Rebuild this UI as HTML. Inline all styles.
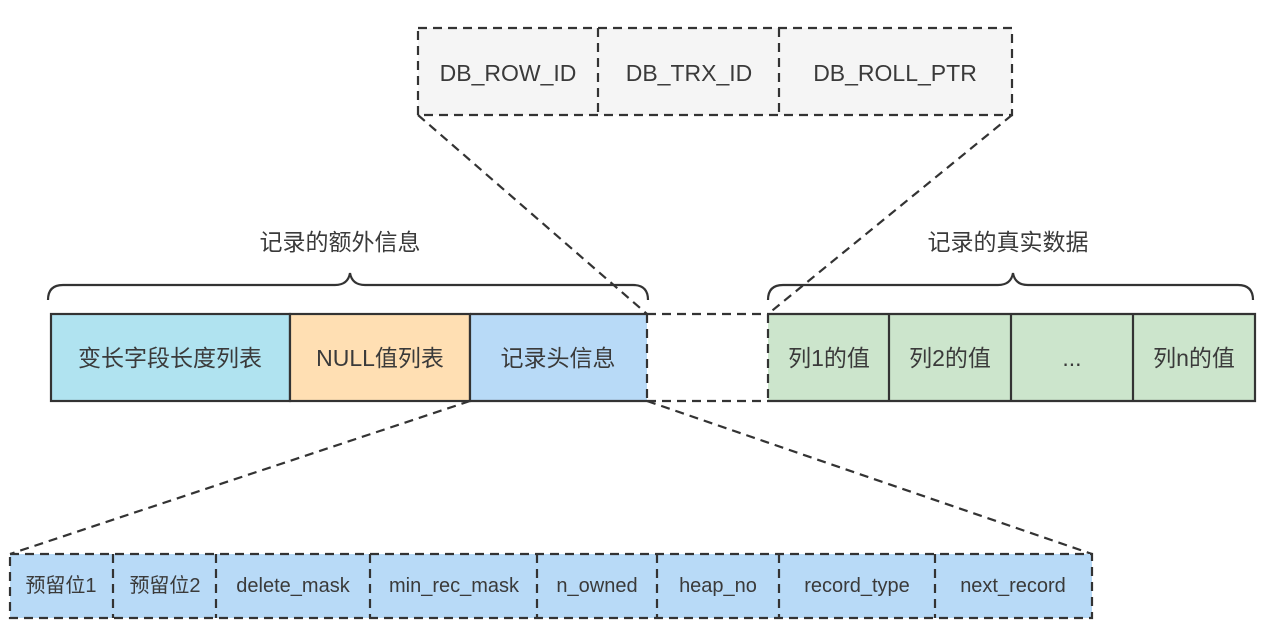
<!DOCTYPE html>
<html><head><meta charset="utf-8"><style>
html,body{margin:0;padding:0;background:#fff;}
svg{display:block;}
text{font-family:"Liberation Sans","Noto Sans CJK SC",sans-serif;fill:#3a3a3a;text-anchor:middle;dominant-baseline:central;}
</style></head><body>
<svg width="1268" height="627" viewBox="0 0 1268 627" xmlns="http://www.w3.org/2000/svg">
<g stroke="#333" stroke-width="2.2" fill="none">
<rect x="418" y="28" width="594" height="87" fill="#f5f5f5" stroke-dasharray="9 6"/>
<line x1="598" y1="28" x2="598" y2="115" stroke-dasharray="9 6"/>
<line x1="779" y1="28" x2="779" y2="115" stroke-dasharray="9 6"/>
<line x1="418" y1="115" x2="647" y2="314" stroke-dasharray="9 6"/>
<line x1="1012" y1="115" x2="768" y2="314" stroke-dasharray="9 6"/>
<line x1="470" y1="401" x2="10" y2="554" stroke-dasharray="9 6"/>
<line x1="647" y1="401" x2="1092" y2="554" stroke-dasharray="9 6"/>
<path d="M48 300 Q48 285 63 285 L335 285 Q348 285 350 273 Q352 285 365 285 L633 285 Q648 285 648 300"/>
<path d="M768 300 Q768 285 783 285 L998 285 Q1011 285 1013 273 Q1015 285 1028 285 L1238 285 Q1253 285 1253 300"/>
<rect x="51" y="314" width="239" height="87" fill="#b0e3f0"/>
<rect x="290" y="314" width="180" height="87" fill="#ffdfb3"/>
<path d="M470 314 H647 V401 H470 Z" fill="#b8daf7" stroke="none"/>
<path d="M470 314 H647 M470 401 H647 M470 314 V401"/>
<line x1="647" y1="314" x2="647" y2="401" stroke-dasharray="9 6"/>
<line x1="647" y1="314" x2="768" y2="314" stroke-dasharray="9 6"/>
<line x1="647" y1="401" x2="768" y2="401" stroke-dasharray="9 6"/>
<path d="M768 314 H1255 V401 H768 Z" fill="#cce5cc" stroke="none"/>
<path d="M768 314 H1255 V401 H768"/>
<line x1="768" y1="314" x2="768" y2="401" stroke-dasharray="9 6"/>
<line x1="889" y1="314" x2="889" y2="401"/>
<line x1="1011" y1="314" x2="1011" y2="401"/>
<line x1="1133" y1="314" x2="1133" y2="401"/>
<rect x="10" y="554" width="1082" height="64" fill="#b8daf7" stroke-dasharray="9 6"/>
<g stroke-dasharray="9 6">
<line x1="113" y1="554" x2="113" y2="618"/>
<line x1="216" y1="554" x2="216" y2="618"/>
<line x1="370" y1="554" x2="370" y2="618"/>
<line x1="537" y1="554" x2="537" y2="618"/>
<line x1="657" y1="554" x2="657" y2="618"/>
<line x1="779" y1="554" x2="779" y2="618"/>
<line x1="935" y1="554" x2="935" y2="618"/>
</g>
</g>
<g font-size="23">
<text x="508" y="73">DB_ROW_ID</text>
<text x="689" y="73">DB_TRX_ID</text>
<text x="895" y="73">DB_ROLL_PTR</text>
<text x="340" y="242">记录的额外信息</text>
<text x="1008" y="242">记录的真实数据</text>
<text x="170" y="358">变长字段长度列表</text>
<text x="380" y="358">NULL值列表</text>
<text x="558" y="358">记录头信息</text>
<text x="829" y="358">列1的值</text>
<text x="950" y="358">列2的值</text>
<text x="1072" y="358">...</text>
<text x="1194" y="358">列n的值</text>
</g>
<g font-size="20">
<text x="61" y="586">预留位1</text>
<text x="165" y="586">预留位2</text>
<text x="293" y="586">delete_mask</text>
<text x="454" y="586">min_rec_mask</text>
<text x="597" y="586">n_owned</text>
<text x="718" y="586">heap_no</text>
<text x="857" y="586">record_type</text>
<text x="1013" y="586">next_record</text>
</g>
</svg>
</body></html>
